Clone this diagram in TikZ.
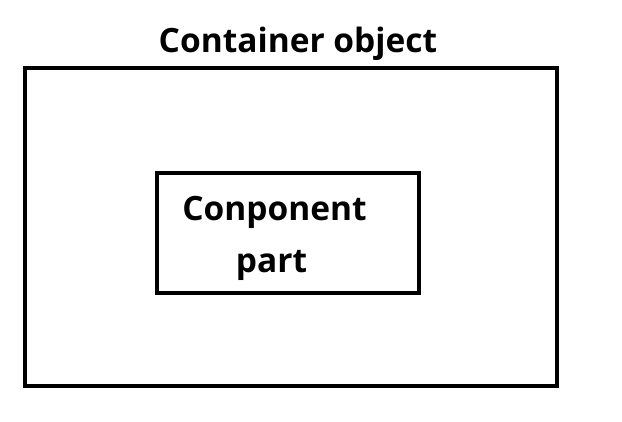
\documentclass[tikz,border=0pt]{standalone}
\usepackage{fontspec}
\setmainfont{Open Sans}
\begin{document}
\begin{tikzpicture}[x=1pt,y=1pt,
  box/.style={draw=black,line width=4pt,fill=none},
  lbl/.style={font=\bfseries\fontsize{33.5}{38}\selectfont,inner sep=0pt,align=center}]
\useasboundingbox (0,0) rectangle (622,422);
\node[box,minimum width=532pt,minimum height=318pt,inner sep=0pt] (outer) at (291,195) {};
\node[box,minimum width=262pt,minimum height=120pt,inner sep=0pt] (inner) at (288,189) {};
\node[lbl] (t) at (298,378) {Container object};
\node[lbl] (c1) at (274.5,210) {Conponent};
\node[lbl] (c2) at (271.5,157) {part};
\end{tikzpicture}
\end{document}
